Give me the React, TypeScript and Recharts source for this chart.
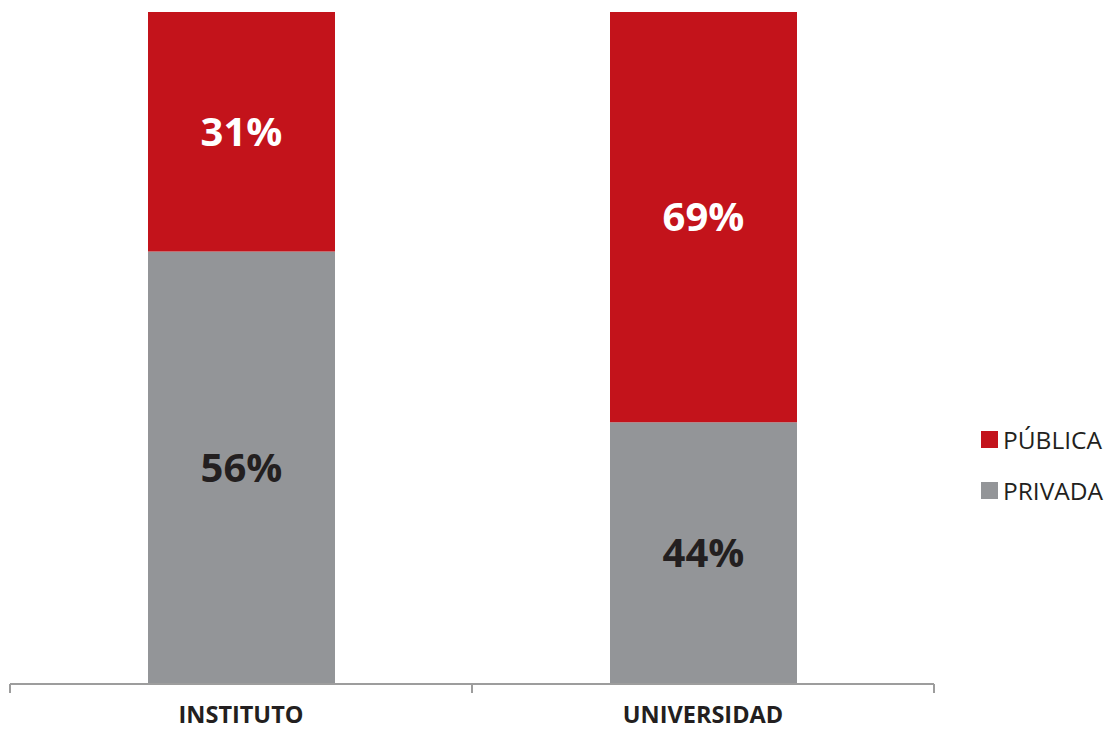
import { BarChart, Bar, XAxis, YAxis, LabelList } from "recharts";

const categories = ["INSTITUTO", "UNIVERSIDAD"];
const privada = [56, 44];
const publica = [31, 69];

const data = categories.map((name, i) => ({
  name,
  privada: privada[i],
  publica: publica[i],
}));

const RED = "#c3131b";
const GRAY = "#939598";
const AXIS = "#9d9d9d";
const TEXT = "#231f20";
const FONT = "'Open Sans', 'Noto Sans', sans-serif";

// category label plus the small boundary ticks on each side of the band
function CategoryTick(props: any) {
  const { x, y, payload } = props;
  const half = payload && payload.offset ? payload.offset : 0;
  return (
    <g>
      {half > 0 && (
        <>
          <line x1={x - half} x2={x - half} y1={y} y2={y + 9} stroke={AXIS} strokeWidth={2} />
          <line x1={x + half} x2={x + half} y1={y} y2={y + 9} stroke={AXIS} strokeWidth={2} />
        </>
      )}
      <text
        x={x}
        y={y + 39}
        textAnchor="middle"
        fontSize={23.5}
        fontWeight={700}
        fill={TEXT}
        fontFamily={FONT}
      >
        {payload.value}
      </text>
    </g>
  );
}

function LegendBox() {
  const items = [
    { color: RED, label: "PÚBLICA" },
    { color: GRAY, label: "PRIVADA" },
  ];
  return (
    <div
      style={{
        position: "absolute",
        left: 981,
        top: 414,
        width: 130,
        fontFamily: FONT,
      }}
    >
      {items.map((it) => (
        <div
          key={it.label}
          style={{
            display: "flex",
            alignItems: "center",
            height: 51,
            fontSize: 24.5,
            color: TEXT,
            whiteSpace: "nowrap",
          }}
        >
          <span
            style={{
              width: 17,
              height: 17,
              backgroundColor: it.color,
              marginRight: 5,
              display: "inline-block",
              flex: "none",
            }}
          />
          {it.label}
        </div>
      ))}
    </div>
  );
}

export default function App() {
  return (
    <div style={{ position: "absolute", left: 0, top: 0, width: 1111, height: 731, background: "#fff" }}>
      <BarChart
        width={1111}
        height={731}
        data={data}
        stackOffset="expand"
        margin={{ top: 12, right: 177, left: 10, bottom: 0 }}
      >
        <XAxis
          dataKey="name"
          height={47}
          axisLine={{ stroke: AXIS, strokeWidth: 2 }}
          tickLine={false}
          tickSize={0}
          tickMargin={0}
          tick={<CategoryTick />}
          interval={0}
        />
        <YAxis hide domain={[0, 1]} />
        <Bar
          dataKey="privada"
          name="PRIVADA"
          stackId="a"
          fill={GRAY}
          barSize={187}
          isAnimationActive={false}
        >
          <LabelList
            dataKey="privada"
            position="center"
            formatter={(v: number) => `${v}%`}
            style={{ fontSize: 40, fontWeight: 700, fill: TEXT, fontFamily: FONT }}
          />
        </Bar>
        <Bar
          dataKey="publica"
          name="PÚBLICA"
          stackId="a"
          fill={RED}
          barSize={187}
          isAnimationActive={false}
        >
          <LabelList
            dataKey="publica"
            position="center"
            formatter={(v: number) => `${v}%`}
            style={{ fontSize: 40, fontWeight: 700, fill: "#ffffff", fontFamily: FONT }}
          />
        </Bar>
      </BarChart>
      <LegendBox />
    </div>
  );
}
